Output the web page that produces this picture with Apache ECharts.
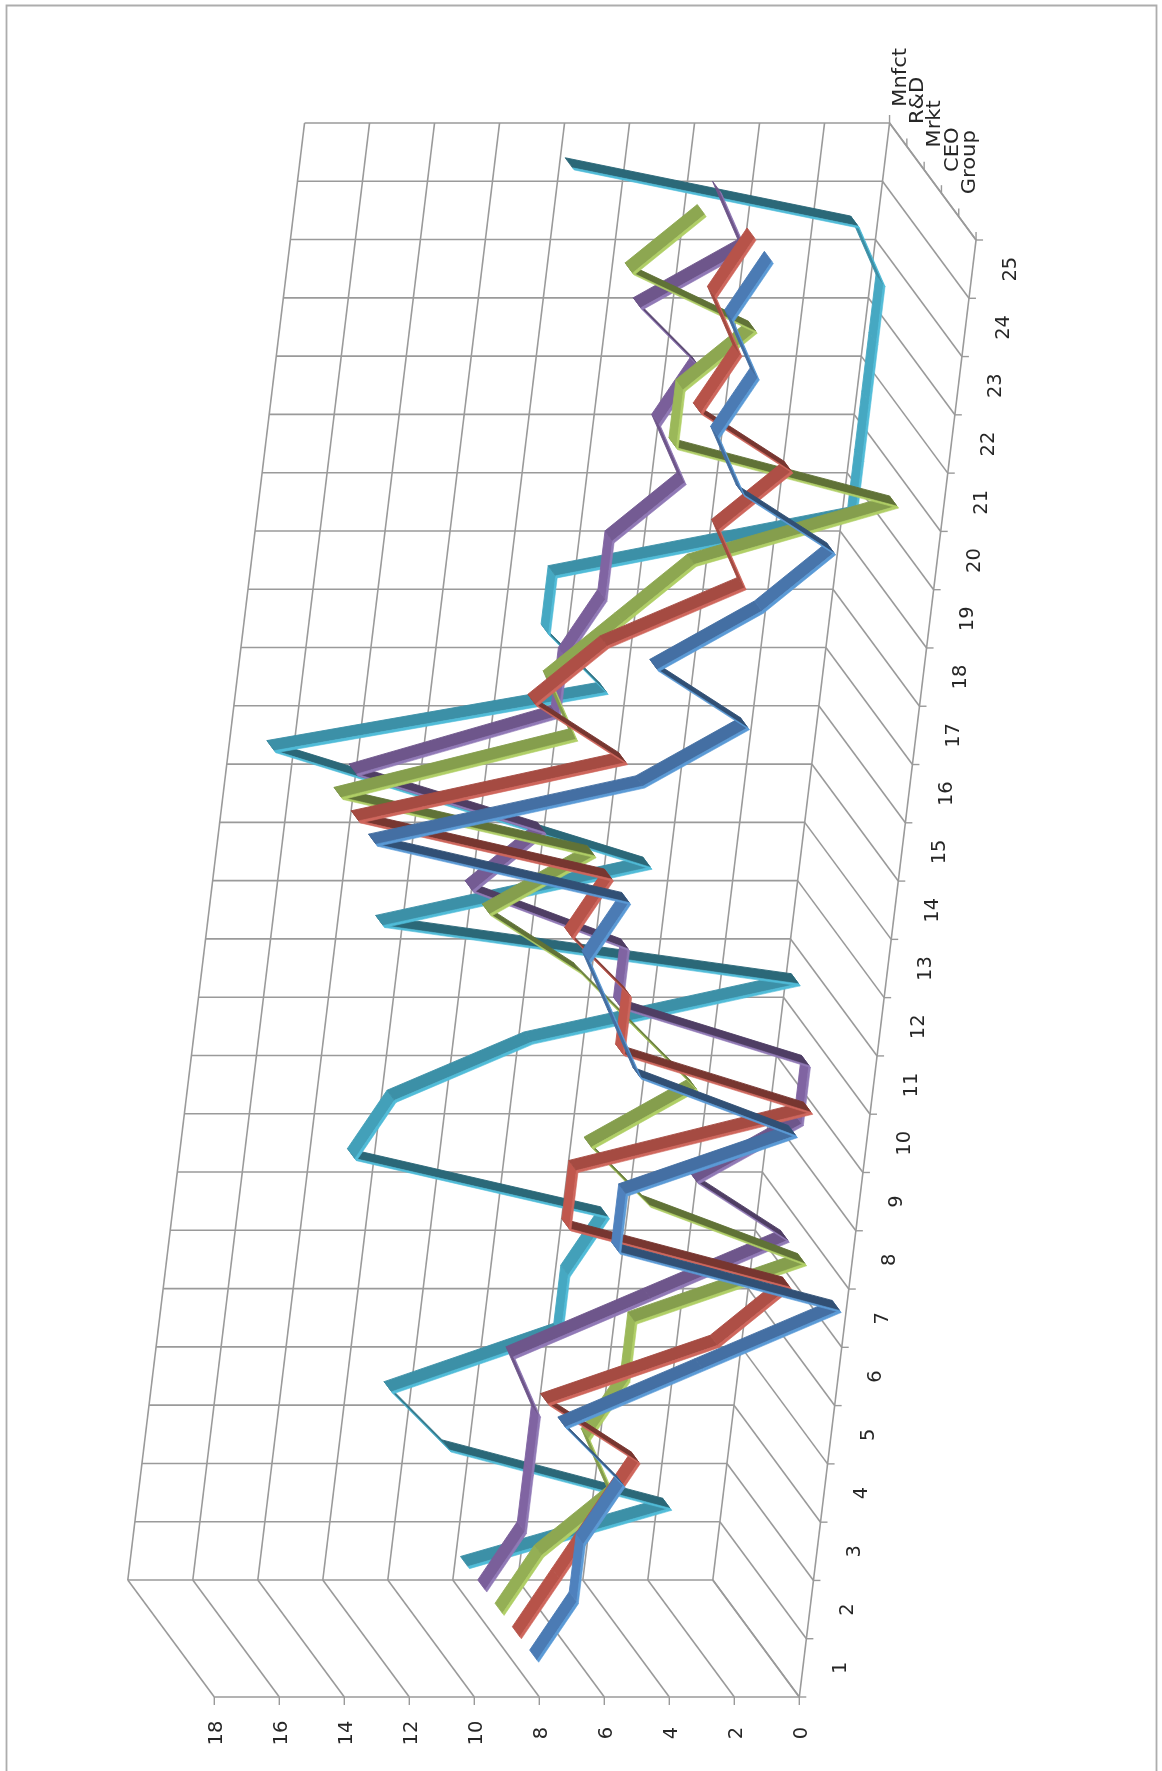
<!DOCTYPE html>
<html>
<head>
<meta charset="utf-8">
<style>
html,body{margin:0;padding:0;background:#fff;}
#chart{width:1162px;height:1771px;filter:blur(0.45px);}
</style>
<script src="https://cdn.jsdelivr.net/npm/echarts@6/dist/echarts.min.js"></script>
</head>
<body>
<div id="chart"></div>
<script>
// ---------- data ----------
var categories = ['1','2','3','4','5','6','7','8','9','10','11','12','13','14','15','16','17','18','19','20','21','22','23','24','25'];
var seriesNames = ['Group','CEO','Mrkt','R&D','Mnfct'];
var valueTicks = [0,2,4,6,8,10,12,14,16,18];
var group = [8,7,7,6,8,4,0,7,7,2,7,8,9,8,16,8,5,8,5,3,6,7,6,7,6];
var ceo   = [8,7,6,5,8,3,1,8,8,1,7,7,9,8,16,8,11,9,5,6,4,7,6,7,6];
var mrkt  = [8,7,5,6,5,5,0,5,7,4,6,8,11,8,16,9,10,8,6,0,7,7,5,9,7];
var rnd   = [8,7,7,7,8,4,0,3,0,0,6,6,11,9,15,9,9,8,8,6,7,6,8,5,6];
var mnfct = [8,2,9,11,6,6,5,13,12,8,0,13,5,11,17,7,9,9,0,0,0,0,0,1,10];

// ---------- styling ----------
var faceColors   = ['#4f81bd','#c0574d','#9bb859','#8064a2','#46a8c2'];
var stripeColors = ['#5a9ad6','#cf665c','#b0cf66','#9079b6','#50bcd8'];
var gridColor = '#9a9a9a';
var textColor = '#262626';
var fontSpec = '19.5px "DejaVu Sans"';
var seriesLabelShift = [-34, -33, -34, -34, -28];

// ---------- oblique 3D projection (image is a chart turned a quarter turn) ----------
var origin = [799.3, 1697];
var catStep = [7.07, -58.28];
var depthStep = [-17.3, -23.4];
var valueStep = [-32.5, 0];
var nCat = categories.length, nDepth = seriesNames.length;
function project(cat, depth, value) {
  return [
    origin[0] + cat * catStep[0] + depth * depthStep[0] + value * valueStep[0],
    origin[1] + cat * catStep[1] + depth * depthStep[1] + value * valueStep[1]
  ];
}
function shade(hex, f) {
  var n = parseInt(hex.slice(1), 16);
  var r = Math.round(((n >> 16) & 255) * f), g = Math.round(((n >> 8) & 255) * f), b = Math.round((n & 255) * f);
  return 'rgb(' + r + ',' + g + ',' + b + ')';
}

// ---------- frame grid lines built from the axes ----------
var gridLines = [];
valueTicks.forEach(function (v) {
  gridLines.push([0, nDepth, v, nCat, nDepth, v]);   // back wall
  gridLines.push([0, 0, v, 0, nDepth, v]);           // side wall
});
for (var c = 0; c <= nCat; c++) {
  gridLines.push([c, 0, 0, c, nDepth, 0]);           // floor
  gridLines.push([c, nDepth, 0, c, nDepth, valueTicks[valueTicks.length - 1]]); // back wall
}
gridLines.push([0, 0, 0, 0, 0, valueTicks[valueTicks.length - 1]]); // value axis
gridLines.push([0, 0, 0, nCat, 0, 0]);                              // category axis
gridLines.push([nCat, 0, 0, nCat, nDepth, 0]);                      // series axis

// tick marks: [cat, depth, value, dx, dy]
var tickMarks = [];
valueTicks.forEach(function (v) { tickMarks.push([0, 0, v, 0, 8]); });
for (var t = 0; t <= nCat; t++) tickMarks.push([t, 0, 0, 7, 0]);
for (var d = 0; d <= nDepth; d++) tickMarks.push([nCat, d, 0, 0, -8]);

// labels: [cat, depth, value, dx, dy, text, align, stretch]
var axisLabels = [];
valueTicks.forEach(function (v) { axisLabels.push([0, 0, v, 2.5, 36, String(v), 'center', 1]); });
categories.forEach(function (name, i) { axisLabels.push([i + 0.5, 0, 0, 38, 0, name, 'center', 1]); });
seriesNames.forEach(function (name, i) { axisLabels.push([nCat, i + 0.5, 0, 2.5, seriesLabelShift[i], name, 'left', 1.08]); });

function renderGrid(params, api) {
  var l = gridLines[params.dataIndex];
  var a = api.coord(project(l[0], l[1], l[2]));
  var b = api.coord(project(l[3], l[4], l[5]));
  return { type: 'line', silent: true, shape: { x1: a[0], y1: a[1], x2: b[0], y2: b[1] },
           style: { stroke: gridColor, lineWidth: 1.6 } };
}
function renderTick(params, api) {
  var m = tickMarks[params.dataIndex];
  var p = project(m[0], m[1], m[2]);
  var a = api.coord(p), b = api.coord([p[0] + m[3], p[1] + m[4]]);
  return { type: 'line', silent: true, shape: { x1: a[0], y1: a[1], x2: b[0], y2: b[1] },
           style: { stroke: gridColor, lineWidth: 1.4 } };
}
function renderLabel(params, api) {
  var m = axisLabels[params.dataIndex];
  var p = project(m[0], m[1], m[2]);
  var a = api.coord([p[0] + m[3], p[1] + m[4]]);
  return { type: 'text', silent: true, x: a[0], y: a[1], rotation: Math.PI / 2, scaleX: m[7],
           style: { text: m[5], x: 0, y: 0, font: fontSpec, fill: textColor, align: m[6], verticalAlign: 'middle' } };
}

// one ribbon series, drawn segment by segment
var halfDepth = 0.26, stripeDepth = 0.09;
function ribbon(seriesIndex, values) {
  var depth = seriesIndex + 0.5;
  var near = depth - halfDepth, far = depth + halfDepth, mid = near + stripeDepth;
  return {
    type: 'custom',
    name: seriesNames[seriesIndex],
    coordinateSystem: 'cartesian2d',
    silent: true,
    animation: false,
    clip: false,
    z: 10 + (nDepth - seriesIndex),
    data: values.map(function (v, i) { return [project(i + 0.5, depth, v)[0], project(i + 0.5, depth, v)[1], i, v]; }),
    encode: { x: 0, y: 1 },
    renderItem: function (params, api) {
      var i = params.dataIndex;
      if (i >= values.length - 1) return null;
      var v0 = values[i], v1 = values[i + 1], dv = v1 - v0;
      var f = dv > 0 ? 1 - 0.38 * Math.min(1, dv / 2.5)
                     : 1 - 0.14 * Math.min(1, -dv / 3);
      function quad(d0, d1) {
        return [project(i + 0.5, d0, v0), project(i + 0.5, d1, v0), project(i + 1.5, d1, v1), project(i + 1.5, d0, v1)]
          .map(function (p) { return api.coord(p); });
      }
      var faceCol = shade(faceColors[seriesIndex], f);
      var stripeCol = stripeColors[seriesIndex];
      return { type: 'group', silent: true, children: [
        { type: 'polygon', silent: true, shape: { points: quad(mid, far) },
          style: { fill: faceCol, stroke: faceCol, lineWidth: 0.9, lineJoin: 'round' } },
        { type: 'polygon', silent: true, shape: { points: quad(near, mid) },
          style: { fill: stripeCol, stroke: stripeCol, lineWidth: 0.6, lineJoin: 'round' } }
      ] };
    }
  };
}

var chart = echarts.init(document.getElementById('chart'), null, { renderer: 'canvas', width: 1162, height: 1771 });
chart.setOption({
  backgroundColor: '#ffffff',
  animation: false,
  grid: { left: 0, right: 0, top: 0, bottom: 0, containLabel: false },
  xAxis: { type: 'value', min: 0, max: 1162, show: false },
  yAxis: { type: 'value', min: 0, max: 1771, inverse: true, show: false },
  graphic: [{
    type: 'rect', silent: true, z: 1,
    shape: { x: 6.5, y: 5.5, width: 1150, height: 1800 },
    style: { fill: 'none', stroke: '#adadad', lineWidth: 1.8 }
  }],
  series: [
    { type: 'custom', name: 'grid', coordinateSystem: 'cartesian2d', silent: true, animation: false, clip: false, z: 2,
      data: gridLines.map(function (l) { return project(l[0], l[1], l[2]); }), encode: { x: 0, y: 1 }, renderItem: renderGrid },
    { type: 'custom', name: 'ticks', coordinateSystem: 'cartesian2d', silent: true, animation: false, clip: false, z: 2,
      data: tickMarks.map(function (m) { return project(m[0], m[1], m[2]); }), encode: { x: 0, y: 1 }, renderItem: renderTick },
    { type: 'custom', name: 'labels', coordinateSystem: 'cartesian2d', silent: true, animation: false, clip: false, z: 3,
      data: axisLabels.map(function (m) { return project(m[0], m[1], m[2]); }), encode: { x: 0, y: 1 }, renderItem: renderLabel },
    ribbon(4, mnfct),
    ribbon(3, rnd),
    ribbon(2, mrkt),
    ribbon(1, ceo),
    ribbon(0, group)
  ]
});
</script>
</body>
</html>
